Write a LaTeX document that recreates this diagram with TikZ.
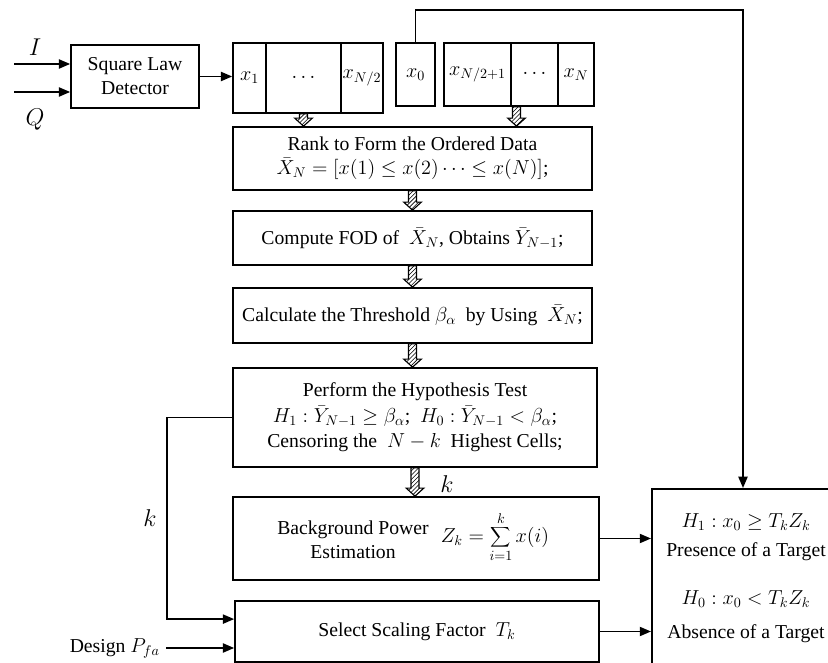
\documentclass[tikz,border=0pt]{standalone}
\usepackage{fontspec}
\setmainfont{Liberation Serif}
\usetikzlibrary{arrows.meta,positioning,patterns,calc}

% hollow hatched block arrow: x taken from #1, tip at the y of #2
\newcommand{\hatcharrow}[2]{%
  \draw[line width=0.8pt,pattern=north east lines]
    let \p1=(#1), \p2=(#2) in
    (\x1-0.1cm,\y1) -- (\x1+0.1cm,\y1) -- (\x1+0.1cm,\y2+0.2cm)
    -- (\x1+0.22cm,\y2+0.2cm) -- (\x1,\y2) -- (\x1-0.22cm,\y2+0.2cm)
    -- (\x1-0.1cm,\y2+0.2cm) -- cycle;}

\begin{document}
\begin{tikzpicture}[
  font=\fontsize{14}{17}\selectfont,
  line width=1.2pt,
  stage/.style={draw,minimum width=8.975cm,align=center,inner sep=2pt},
  cellL/.style={draw,minimum height=1.75cm,inner sep=0pt},
  cellR/.style={draw,minimum height=1.575cm,inner sep=0pt},
  big/.style={font=\fontsize{17}{20}\selectfont},
  >={Triangle[length=8pt,width=6.5pt]}
]
  \useasboundingbox (0,0) rectangle (20.7,16.575);
  \clip (0,0) rectangle (20.7,16.575);

  % detector and the window of cells
  \node[draw,minimum width=3.2cm,minimum height=1.575cm,align=center]
    (det) at (3.375,14.6625) {Square Law\\Detector};

  \node[cellL,minimum width=0.825cm] (x1) at (6.2375,14.625) {$x_1$};
  \node[cellL,minimum width=1.875cm] (dotsL) at (7.5875,14.625) {$\cdots$};
  \node[cellL,minimum width=1.05cm] (xhalf) at (9.05,14.625) {$x_{N/2}$};
  \node[cellR,minimum width=0.975cm] (x0) at (10.3875,14.7125) {$x_0$};
  \node[cellR,minimum width=1.675cm] (xnext) at (11.9375,14.7125) {$x_{N/2+1}$};
  \node[cellR,minimum width=1.175cm] (dotsR) at (13.3625,14.7125) {$\cdots$};
  \node[cellR,minimum width=0.9cm] (xN) at (14.4,14.7125) {$x_N$};

  \coordinate (iin) at (0.35,14.975);
  \coordinate (qin) at (0.35,14.275);
  \node[big] (ilbl) at (0.875,15.4) {$I$};
  \node[big] (qlbl) at (0.875,13.575) {$Q$};
  \draw[->] (iin) -- (iin -| det.west);
  \draw[->] (qin) -- (qin -| det.west);
  \draw[->] (det.east) -- (det.east -| x1.west);

  % processing chain
  \node[stage,minimum height=1.575cm] (rank) at (10.3125,12.6125)
    {Rank to Form the Ordered Data\\
     $\bar{X}_N=\left[x(1)\le x(2)\cdots\le x(N)\right]$;};
  \node[stage,minimum height=1.35cm] (fod) at (10.3125,10.625)
    {Compute FOD of ~$\bar{X}_N$, Obtains $\bar{Y}_{N-1}$;};
  \node[stage,minimum height=1.375cm] (thresh) at (10.3125,8.6875)
    {Calculate the Threshold $\beta_\alpha$ ~by Using ~$\bar{X}_N$;};
  \node[stage,minimum width=9.1cm,minimum height=2.475cm] (test) at (10.375,6.1375)
    {Perform the Hypothesis Test\\[1pt]
     $H_1:\bar{Y}_{N-1}\ge\beta_\alpha$; ~$H_0:\bar{Y}_{N-1}<\beta_\alpha$;\\[1pt]
     Censoring the ~$N-k$~ Highest Cells;};
  \node[stage,minimum width=9.15cm,minimum height=2.075cm] (bpe) at (10.4,3.1125) {};
  \node[align=center] (bpetxt) at (8.825,3.075) {Background Power\\Estimation};
  \node (zk) at (12.375,3.15) {$\displaystyle Z_k=\sum_{i=1}^{k}x(i)$};
  \node[stage,minimum width=9.1cm,minimum height=1.525cm] (select) at (10.425,0.7875)
    {Select Scaling Factor ~$T_k$};

  \hatcharrow{dotsL.south}{rank.north}
  \hatcharrow{[xshift=-0.45cm]dotsR.south}{rank.north}
  \hatcharrow{rank.south}{fod.north}
  \hatcharrow{fod.south}{thresh.north}
  \hatcharrow{thresh.south}{test.north}
  \hatcharrow{test.south}{bpe.north}
  \node[big] (kdown) at (11.175,4.475) {$k$};

  % decision (runs off the right and bottom edges)
  \node[draw,minimum width=4.9cm,minimum height=4.6cm,anchor=north west]
    (decide) at (16.275,4.375) {};
  \node[align=center] (verdict) at (18.65,2.12)
    {$H_1:x_0\ge T_kZ_k$\\[4pt]
     Presence of a Target\\[17pt]
     $H_0:x_0<T_kZ_k$\\[7pt]
     Absence of a Target};

  \coordinate (loop) at (18.575,16.325);
  \draw[->] (x0.north) |- (loop) -- (loop |- decide.north);

  \coordinate (kbus) at (4.175,0);
  \node[big] (kside) at (3.75,3.625) {$k$};
  \draw[->] (test.west) -- (test.west -| kbus) |- ([yshift=0.31cm]select.west);

  \node[anchor=east,inner sep=1pt] (pfa) at (4.05,0.375) {Design $P_{fa}$};
  \draw[->] ([xshift=3pt]pfa.east) -- (pfa.east -| select.west);

  \draw[->] (bpe.east) -- (bpe.east -| decide.west);
  \draw[->] (select.east) -- (select.east -| decide.west);
\end{tikzpicture}
\end{document}
